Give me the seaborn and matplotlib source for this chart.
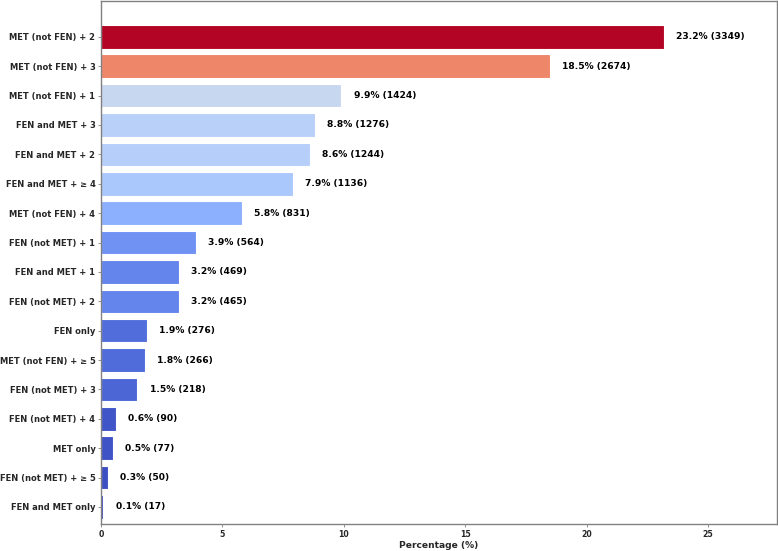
import matplotlib
matplotlib.use("Agg")
import matplotlib.pyplot as plt
import seaborn as sns
import pandas as pd
import numpy as np

categories = [
    "MET (not FEN) + 2", "MET (not FEN) + 3", "MET (not FEN) + 1",
    "FEN and MET + 3", "FEN and MET + 2", "FEN and MET + \u2265 4",
    "MET (not FEN) + 4", "FEN (not MET) + 1", "FEN and MET + 1",
    "FEN (not MET) + 2", "FEN only", "MET (not FEN) + \u2265 5",
    "FEN (not MET) + 3", "FEN (not MET) + 4", "MET only",
    "FEN (not MET) + \u2265 5", "FEN and MET only",
]
percentages = [23.2, 18.5, 9.9, 8.8, 8.6, 7.9, 5.8, 3.9, 3.2, 3.2, 1.9, 1.8, 1.5, 0.6, 0.5, 0.3, 0.1]
counts = [3349, 2674, 1424, 1276, 1244, 1136, 831, 564, 469, 465, 276, 266, 218, 90, 77, 50, 17]

df = pd.DataFrame({"category": categories, "pct": percentages, "count": counts})

sns.set_style("white")
plt.rcParams["font.family"] = ["DejaVu Sans"]

fig, ax = plt.subplots(figsize=(7.78, 5.51), dpi=100)
fig.subplots_adjust(left=101/778, right=777/778, top=1 - 1/551, bottom=1 - 524/551)

cmap = plt.get_cmap("coolwarm")
norm = matplotlib.colors.Normalize(vmin=min(percentages), vmax=max(percentages))
colors = [cmap(norm(v)) for v in percentages]

sns.barplot(data=df, y="category", x="pct", hue="category", palette=colors,
            saturation=1, legend=False, orient="h", width=0.8,
            edgecolor="white", linewidth=0.8, ax=ax)

for i, (p, c) in enumerate(zip(percentages, counts)):
    ax.text(p + 0.5, i, f"{p:.1f}% ({c})", va="center", ha="left",
            fontsize=6.6, fontweight="bold", color="black")

ax.set_xlim(0, max(percentages) * 1.2)
ax.set_ylim(16.58, -1.22)
ax.set_xlabel("Percentage (%)", fontsize=6.6, fontweight="bold", labelpad=1.5)
ax.set_ylabel("")
ax.set_xticks([0, 5, 10, 15, 20, 25])
for lbl in ax.get_xticklabels():
    lbl.set_fontweight("bold")
    lbl.set_fontsize(5.6)
for lbl in ax.get_yticklabels():
    lbl.set_fontweight("bold")
    lbl.set_fontsize(6.0)
ax.tick_params(axis="both", length=2.5, width=0.6, color="gray", pad=1.5)
ax.tick_params(axis="x", bottom=True)
ax.tick_params(axis="y", left=True)
for s in ax.spines.values():
    s.set_color("gray")
    s.set_linewidth(1)

fig.savefig("out.png", dpi=100)
